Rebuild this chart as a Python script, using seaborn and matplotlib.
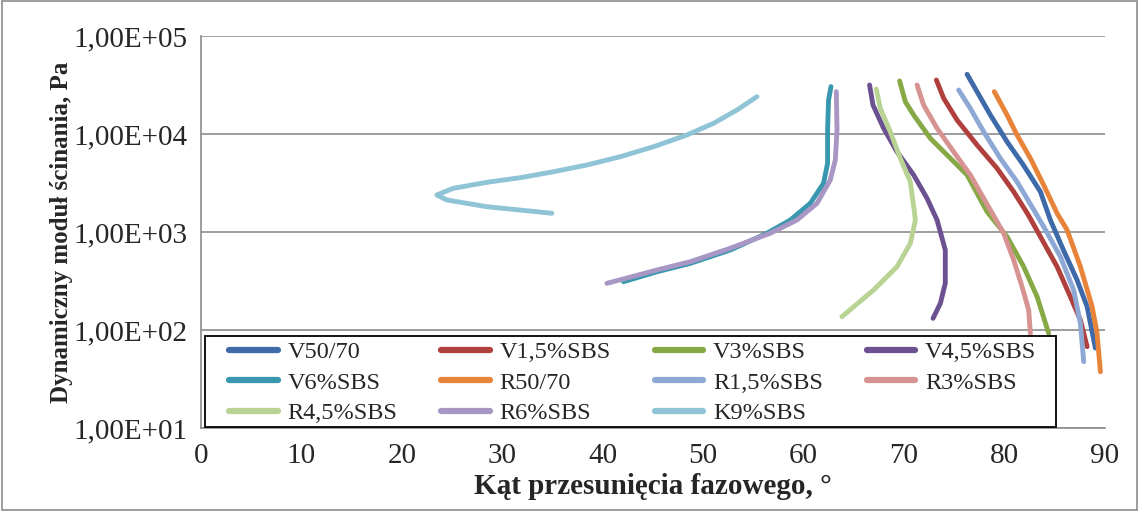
import matplotlib
matplotlib.use("Agg")
import matplotlib.pyplot as plt
from matplotlib.ticker import FuncFormatter, FixedLocator
import numpy as np
import pandas as pd
import seaborn as sns

# kąt przesunięcia fazowego [deg] i log10 modułu [Pa]
v50_x = [76.27, 77.26, 78.59, 80.25, 81.87, 83.57, 84.56, 85.86, 87.22, 88.22, 89.04]
v50_lg = [4.609, 4.432, 4.194, 3.921, 3.684, 3.411, 3.122, 2.816, 2.51, 2.238, 1.816]
v15_x = [73.21, 73.94, 75.27, 77.26, 79.25, 80.91, 82.37, 83.57, 85.23, 86.55, 87.55, 88.22]
v15_lg = [4.551, 4.364, 4.143, 3.888, 3.65, 3.411, 3.173, 2.952, 2.646, 2.34, 2.102, 1.83]
v3_x = [69.55, 70.12, 70.95, 72.61, 74.27, 76.27, 78.26, 80.25, 81.9, 83.24, 84.39]
v3_lg = [4.541, 4.33, 4.194, 3.956, 3.786, 3.582, 3.207, 2.952, 2.646, 2.34, 1.966]
v45_x = [66.56, 66.9, 67.96, 69.29, 70.95, 72.28, 73.28, 74.1, 74.1, 73.61, 72.88]
v45_lg = [4.5, 4.296, 4.058, 3.819, 3.582, 3.344, 3.122, 2.816, 2.477, 2.272, 2.119]
v6_x = [62.72, 62.48, 62.38, 62.38, 61.98, 60.66, 58.67, 56.34, 52.69, 48.71, 45.39, 42.06]
v6_lg = [4.483, 4.347, 4.041, 3.701, 3.497, 3.293, 3.122, 2.987, 2.816, 2.68, 2.594, 2.493]
r50_x = [78.98, 80.25, 81.24, 82.57, 83.89, 85.23, 86.23, 87.55, 88.72, 89.21, 89.54]
r50_lg = [4.432, 4.194, 3.99, 3.752, 3.48, 3.191, 3.02, 2.646, 2.238, 1.966, 1.574]
r15_x = [75.43, 76.59, 77.92, 79.58, 81.24, 82.74, 83.9, 85.56, 86.88, 87.55, 87.88]
r15_lg = [4.449, 4.262, 4.023, 3.752, 3.513, 3.255, 3.054, 2.748, 2.408, 2.068, 1.677]
r3_x = [71.29, 71.94, 73.28, 74.93, 76.59, 78.59, 79.91, 80.91, 81.74, 82.4, 82.57]
r3_lg = [4.5, 4.296, 4.058, 3.819, 3.582, 3.224, 2.987, 2.714, 2.442, 2.204, 1.966]
r45_x = [67.23, 67.63, 68.63, 69.62, 70.62, 71.02, 71.12, 70.62, 69.29, 66.96, 63.81]
r45_lg = [4.459, 4.262, 4.023, 3.752, 3.513, 3.207, 3.122, 2.884, 2.646, 2.408, 2.136]
r6_x = [63.25, 63.32, 63.15, 62.65, 61.33, 59.33, 56.67, 52.69, 48.71, 45.39, 40.41]
r6_lg = [4.432, 4.041, 3.735, 3.531, 3.293, 3.122, 2.987, 2.834, 2.697, 2.612, 2.476]
k9_x = [55.35, 53.36, 51.03, 48.38, 45.05, 41.73, 38.42, 35.09, 31.77, 28.46, 25.13,
        23.48, 24.47, 28.46, 31.77, 34.93]
k9_lg = [4.381, 4.245, 4.109, 3.99, 3.87, 3.768, 3.684, 3.615, 3.554, 3.507, 3.446,
         3.378, 3.327, 3.258, 3.224, 3.191]

names = ["V50/70", "V1,5%SBS", "V3%SBS", "V4,5%SBS", "V6%SBS", "R50/70",
         "R1,5%SBS", "R3%SBS", "R4,5%SBS", "R6%SBS", "K9%SBS"]
series_x = [v50_x, v15_x, v3_x, v45_x, v6_x, r50_x, r15_x, r3_x, r45_x, r6_x, k9_x]
series_lg = [v50_lg, v15_lg, v3_lg, v45_lg, v6_lg, r50_lg, r15_lg, r3_lg, r45_lg, r6_lg, k9_lg]
colors = ["#3F6AAA", "#B0403D", "#86A845", "#6C5191", "#3A97B0", "#E8843A",
          "#8EA8D6", "#D69391", "#B9D395", "#A896C4", "#8EC4D6"]

rows = []
for name, xs, lgs in zip(names, series_x, series_lg):
    for a, b in zip(xs, lgs):
        rows.append({"seria": name, "kat": a, "G": 10 ** b})
df = pd.DataFrame(rows)

sns.set_style("white")
plt.rcParams["font.family"] = ["Liberation Serif", "DejaVu Serif"]

fig = plt.figure(figsize=(11.39, 5.11), dpi=100)
ax = fig.add_axes([201 / 1139, 1 - 428 / 511, 904 / 1139, 392 / 511])

sns.lineplot(data=df, x="kat", y="G", hue="seria", hue_order=names,
             palette=dict(zip(names, colors)), sort=False, estimator=None,
             units="seria", linewidth=3.5, ax=ax,
             solid_capstyle="round", solid_joinstyle="round")

ax.set_yscale("log")
ax.set_xlim(0, 90)
ax.set_ylim(10, 1e5)
ax.xaxis.set_major_locator(FixedLocator(np.arange(0, 91, 10)))
ax.yaxis.set_major_locator(FixedLocator([1e1, 1e2, 1e3, 1e4, 1e5]))
ax.yaxis.set_minor_locator(FixedLocator([]))
ax.yaxis.set_major_formatter(FuncFormatter(lambda v, p: "1,00E+%02d" % round(np.log10(v))))
ax.grid(axis="y", color="#8c8c8c", linewidth=1.2)
ax.grid(axis="x", visible=False)
for s in ["top", "right"]:
    ax.spines[s].set_visible(False)
for s in ["left", "bottom"]:
    ax.spines[s].set_color("#8c8c8c")
    ax.spines[s].set_linewidth(1.2)
ax.tick_params(axis="both", which="major", labelsize=21, color="#8c8c8c",
               length=7, width=1.2, direction="out")
ax.tick_params(axis="x", pad=4)
ax.tick_params(axis="y", pad=3)

ax.set_xlabel("Kąt przesunięcia fazowego, °", fontsize=21, fontweight="bold", labelpad=3)
ax.set_ylabel("Dynamiczny moduł ścinania, Pa", fontsize=18, fontweight="bold", labelpad=0)

# ramka legendy (biale tlo, czarna krawedz)
ax.add_patch(plt.Rectangle((0.0044, 0.0026), 0.941, 0.232, transform=ax.transAxes,
                           facecolor="white", edgecolor="black", linewidth=1.3,
                           zorder=4, clip_on=False))

handles, labels = ax.get_legend_handles_labels()
order = [0, 4, 8, 1, 5, 9, 2, 6, 10, 3, 7]
leg = ax.legend([handles[k] for k in order], [labels[k] for k in order],
                ncol=4, loc="center", mode="expand",
                bbox_to_anchor=(0.031, 0.0, 0.893, 0.232),
                fontsize=17.5, frameon=False, handlelength=2.0,
                handletextpad=0.4, labelspacing=0.35, borderpad=0,
                borderaxespad=0)
leg.set_zorder(5)
for ln in leg.get_lines():
    ln.set_linewidth(4.5)

fig.patches.append(plt.Rectangle((0.002, 0.002), 0.996, 0.996, transform=fig.transFigure,
                                 fill=False, edgecolor="#8c8c8c", linewidth=1.2))

fig.savefig("out.png", dpi=100)
